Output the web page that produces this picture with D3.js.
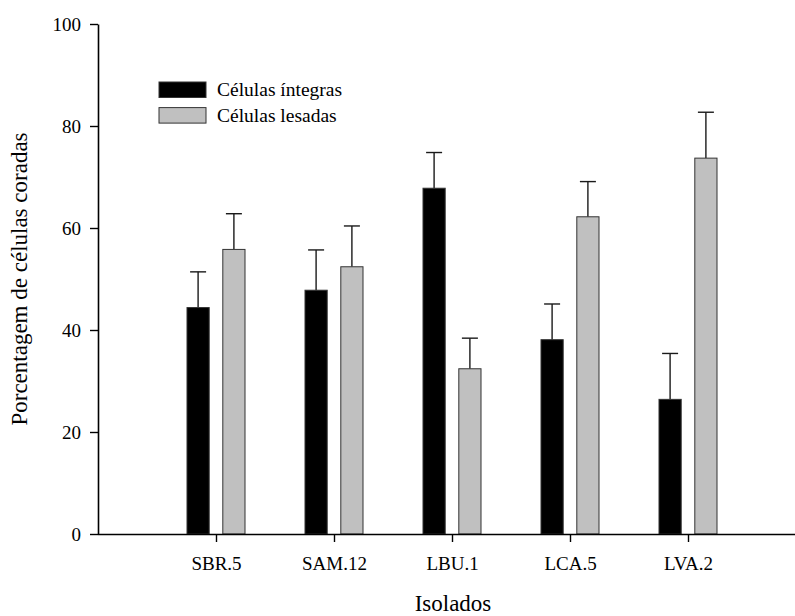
<!DOCTYPE html>
<html>
<head>
<meta charset="utf-8">
<script src="https://cdn.jsdelivr.net/npm/d3@7"></script>
<style>
  html, body { margin: 0; padding: 0; background: #fff; overflow: hidden; }
  svg { display: block; }
  svg text { font-family: "Liberation Serif", "Times New Roman", serif; fill: #000; }
</style>
</head>
<body>
<svg id="chart" width="795" height="616"></svg>
<script>
// Isolates on the x axis
const categories = ["SBR.5", "SAM.12", "LBU.1", "LCA.5", "LVA.2"];
// Series names (legend)
const seriesNames = ["Células íntegras", "Células lesadas"];
// Mean percentage of stained cells per isolate
const integras = [44.4, 47.8, 67.8, 38.1, 26.4];
const lesadas  = [55.8, 52.4, 32.4, 62.2, 73.7];
// Upper error (standard deviation) per isolate
const integrasErr = [7.0, 7.9, 7.0, 7.0, 9.0];
const lesadasErr  = [7.0, 8.0, 6.0, 6.9, 9.0];
// Y axis ticks
const yTicks = [0, 20, 40, 60, 80, 100];

const seriesFill = ["#000000", "#c0c0c0"];

const width = 795, height = 616;
const svg = d3.select("#chart");
const x0Left = 98, x0Right = 806, yTop = 24, yBottom = 534;

const x = d3.scalePoint().domain(categories).range([x0Left, x0Right]).padding(1);
const xInner = d3.scaleBand().domain(seriesNames).range([-29, 29]).paddingInner(0.38).paddingOuter(0);
const y = d3.scaleLinear().domain([0, 100]).range([yBottom, yTop]);

const rows = categories.map((c, i) => ({
  cat: c,
  vals: [
    { s: seriesNames[0], v: integras[i], e: integrasErr[i], fill: seriesFill[0] },
    { s: seriesNames[1], v: lesadas[i], e: lesadasErr[i], fill: seriesFill[1] }
  ]
}));

// Bars with upper error bars
const groups = svg.append("g").selectAll("g").data(rows).join("g")
  .attr("transform", d => `translate(${x(d.cat)},0)`);

groups.selectAll("line.err").data(d => d.vals).join("line")
  .attr("class", "err")
  .attr("x1", d => xInner(d.s) + xInner.bandwidth() / 2)
  .attr("x2", d => xInner(d.s) + xInner.bandwidth() / 2)
  .attr("y1", d => y(d.v))
  .attr("y2", d => y(d.v + d.e))
  .attr("stroke", "#1a1a1a").attr("stroke-width", 1.4);

groups.selectAll("line.cap").data(d => d.vals).join("line")
  .attr("class", "cap")
  .attr("x1", d => xInner(d.s) + xInner.bandwidth() / 2 - 8)
  .attr("x2", d => xInner(d.s) + xInner.bandwidth() / 2 + 8)
  .attr("y1", d => y(d.v + d.e))
  .attr("y2", d => y(d.v + d.e))
  .attr("stroke", "#1a1a1a").attr("stroke-width", 1.4);

groups.selectAll("rect").data(d => d.vals).join("rect")
  .attr("x", d => xInner(d.s))
  .attr("width", xInner.bandwidth())
  .attr("y", d => y(d.v))
  .attr("height", d => y(0) - y(d.v))
  .attr("fill", d => d.fill)
  .attr("stroke", "#333")
  .attr("stroke-width", 1);

// Y axis
const yAxis = svg.append("g")
  .attr("transform", `translate(${x0Left},0)`)
  .call(d3.axisLeft(y).tickValues(yTicks).tickSize(8).tickSizeOuter(0).tickPadding(9));
yAxis.attr("font-family", null).attr("font-size", null);
yAxis.select(".domain").attr("stroke", "#000").attr("stroke-width", 1.6);
yAxis.selectAll(".tick line").attr("stroke", "#000").attr("stroke-width", 1.4);
yAxis.selectAll(".tick text").style("font-size", "19px");

// X axis; its line runs on to the right edge of the drawing
const xAxis = svg.append("g")
  .attr("transform", `translate(0,${yBottom})`)
  .call(d3.axisBottom(x).tickSize(8).tickSizeOuter(0));
xAxis.attr("font-family", null).attr("font-size", null);
xAxis.select(".domain").remove();
xAxis.insert("line", ":first-child")
  .attr("x1", x0Left).attr("x2", Math.min(x0Right, width))
  .attr("y1", 0.5).attr("y2", 0.5)
  .attr("stroke", "#000").attr("stroke-width", 1.6);
xAxis.selectAll(".tick line").attr("stroke", "#000").attr("stroke-width", 1.4);
xAxis.selectAll(".tick text")
  .style("font-size", "19px")
  .attr("y", 36).attr("dy", null);

// Axis titles
svg.append("text")
  .attr("transform", `translate(27,${(yTop + yBottom) / 2}) rotate(-90)`)
  .attr("text-anchor", "middle")
  .style("font-size", "23px")
  .text("Porcentagem de células coradas");

svg.append("text")
  .attr("x", 453).attr("y", 611)
  .attr("text-anchor", "middle")
  .style("font-size", "23px")
  .text("Isolados");

// Legend
const legend = svg.append("g").attr("transform", "translate(159,82)");
const li = legend.selectAll("g").data(seriesNames).join("g")
  .attr("transform", (d, i) => `translate(0,${i * 25.6})`);
li.append("rect")
  .attr("width", 47).attr("height", 15.5)
  .attr("fill", (d, i) => seriesFill[i])
  .attr("stroke", "#333").attr("stroke-width", 1);
li.append("text")
  .attr("x", 58).attr("y", 14)
  .style("font-size", "19.5px")
  .text(d => d);
</script>
</body>
</html>
